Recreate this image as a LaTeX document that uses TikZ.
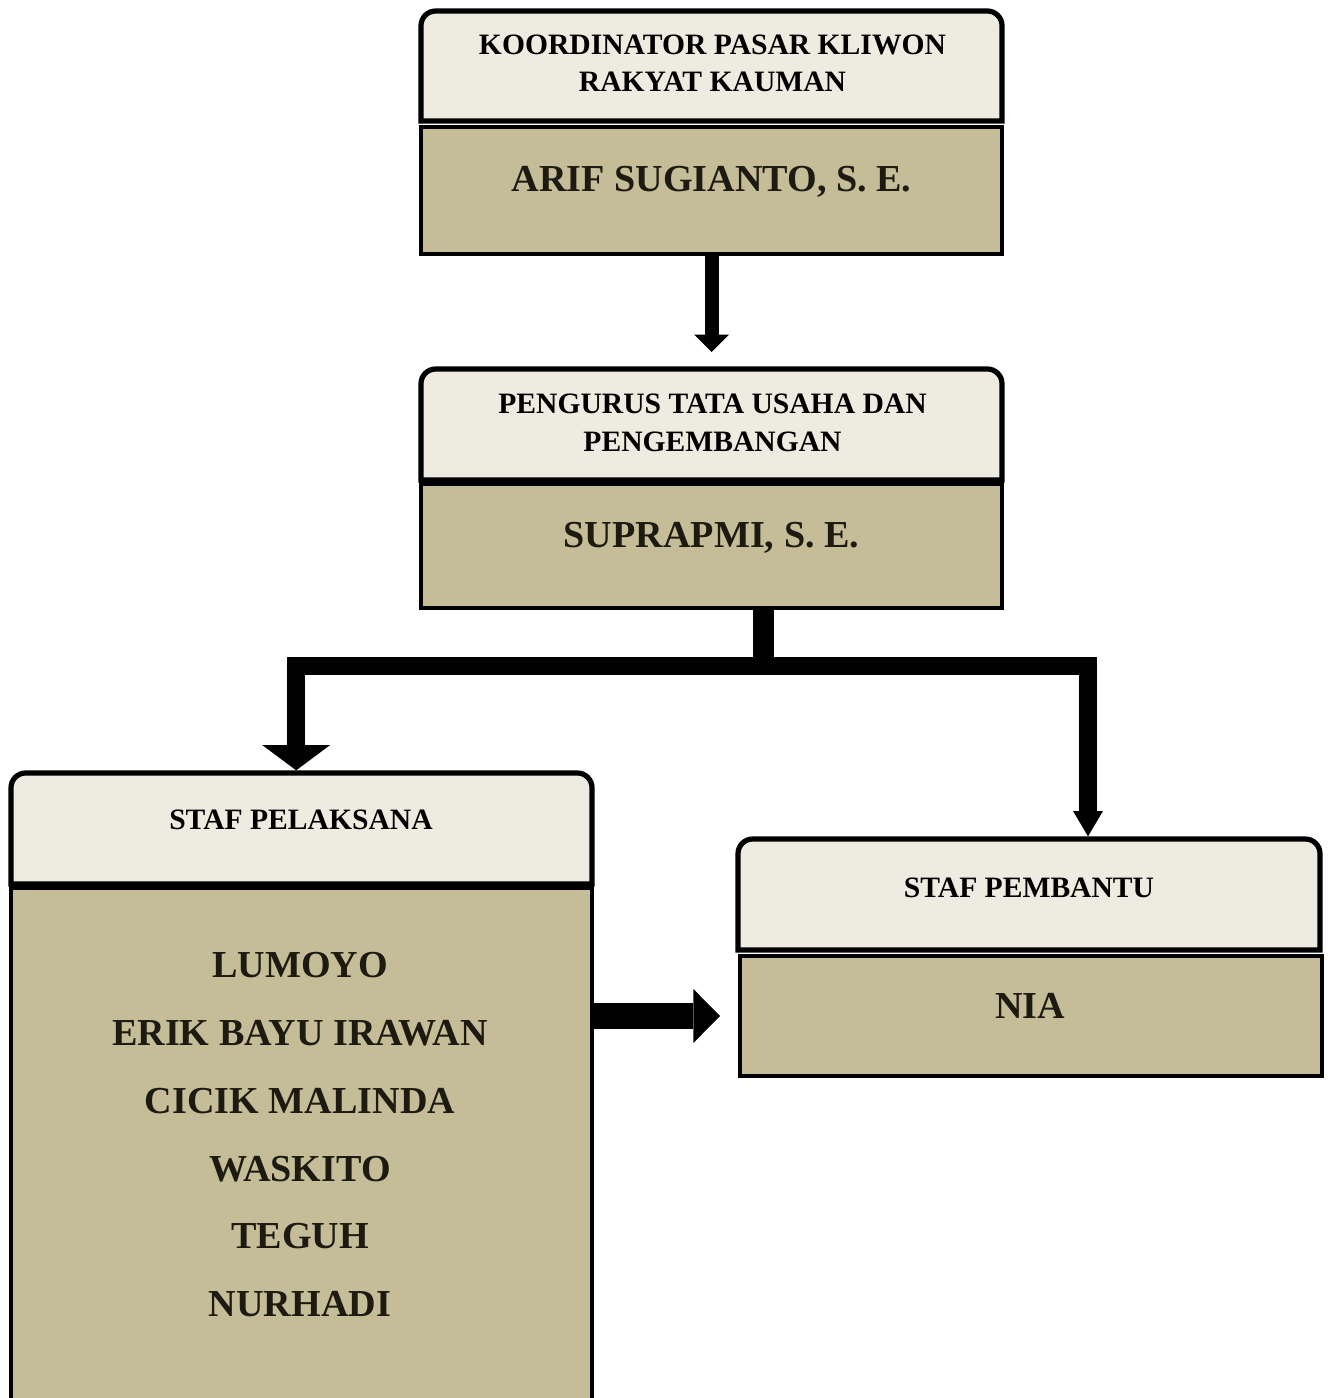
\documentclass[tikz,border=0pt]{standalone}
\usepackage{fontspec}
\setmainfont{Liberation Serif}
\usetikzlibrary{arrows.meta}
\definecolor{hdrfill}{HTML}{EEECE1}
\definecolor{bodyfill}{HTML}{C4BD97}
\definecolor{bodytext}{HTML}{1D1B11}
\begin{document}
\begin{tikzpicture}[x=0.75pt,y=-0.75pt,
  hdrbox/.style={minimum width=435.75pt,minimum height=83pt,inner sep=0pt,outer sep=0pt},
  hdrline/.style={draw=black,line width=3.9pt,fill=hdrfill},
  bodybox/.style={draw=black,line width=3pt,fill=bodyfill,minimum width=435.75pt,inner sep=0pt,outer sep=0pt},
  htext/.style={anchor=base,inner sep=0pt,font=\fontsize{22.2pt}{27.75pt}\selectfont\bfseries,text=black},
  btext/.style={anchor=base,inner sep=0pt,font=\fontsize{28.6pt}{34pt}\selectfont\bfseries,text=bodytext},
  fat/.style={draw=black,line join=miter}
]
\clip (0,0) rectangle (1333,1398);
\fill[white] (0,0) rectangle (1333,1398);

% header placeholders
\node[hdrbox,minimum height=82.5pt] (h1) at (711.5,66) {};
\node[hdrbox,minimum height=83.25pt] (h2) at (711.5,424.5) {};
\node[hdrbox,minimum height=83.25pt] (h3) at (301.5,828.5) {};
\node[hdrbox,minimum width=436.5pt,minimum height=83.25pt] (h4) at (1029,894.5) {};
\foreach \n in {h1,h2,h3,h4}
  \draw[hdrline] (\n.south west) [rounded corners=11pt] -- (\n.north west) -- (\n.north east) [sharp corners] -- (\n.south east) -- cycle;

% body boxes
\node[bodybox,minimum height=95.25pt] (b1) at (711.5,190.5) {};
\node[bodybox,minimum height=93pt] (b2) at (711.5,546) {};
\node[bodybox,minimum height=399pt] (b3) at (301.5,1154) {};
\node[bodybox,minimum width=436.5pt,minimum height=90pt] (b4) at (1031,1016) {};

% connectors
\draw[fat,line width=10.5pt,-{Triangle[width=26pt,length=13pt,line width=0pt]}] (b1.south) -- ([yshift=12.75pt]h2.north);
\coordinate (jn) at (763,666);
\draw[fat,line width=15.75pt] (b2.south -| jn) -- (jn);
\draw[fat,line width=13.5pt,-{Triangle[width=51pt,length=19pt,line width=0pt]}] (jn) -| ([xshift=-4pt,yshift=2pt]h3.north);
\draw[fat,line width=13.5pt,-{Triangle[width=22.5pt,length=19pt,line width=0pt]}] (jn) -| ([xshift=44.25pt,yshift=2pt]h4.north);
\draw[fat,line width=19.5pt,-{Triangle[width=40.5pt,length=20pt,line width=0pt]}] (b3.east |- b4.west) -- ([xshift=-15pt]b4.west);

% texts
\node[htext] (t1a) at (712.5,55) {KOORDINATOR PASAR KLIWON};
\node[htext] (t1b) at (712.5,92) {RAKYAT KAUMAN};
\node[btext] (t1c) at (711.5,192) {ARIF SUGIANTO, S. E.};
\node[htext] (t2a) at (712.5,413) {PENGURUS TATA USAHA DAN};
\node[htext] (t2b) at (712.5,451) {PENGEMBANGAN};
\node[btext] (t2c) at (711.5,547) {SUPRAPMI, S. E.};
\node[htext] (t3a) at (301,829) {STAF PELAKSANA};
\node[btext] (n1) at (300,977) {LUMOYO};
\node[btext] (n2) at (300,1045) {ERIK BAYU IRAWAN};
\node[btext] (n3) at (300,1113) {CICIK MALINDA};
\node[btext] (n4) at (300,1181) {WASKITO};
\node[btext] (n5) at (300,1248) {TEGUH};
\node[btext] (n6) at (300,1316) {NURHADI};
\node[htext] (t4a) at (1029,897) {STAF PEMBANTU};
\node[btext] (t4b) at (1030,1018) {NIA};
\end{tikzpicture}
\end{document}
